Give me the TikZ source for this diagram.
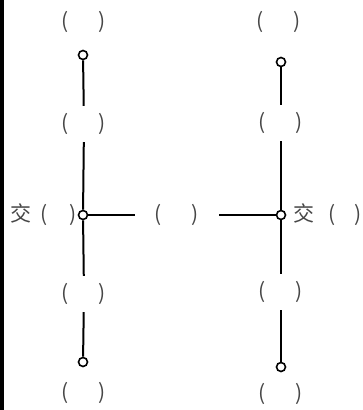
\documentclass[tikz,border=0pt]{standalone}
\usepackage{fontspec}
\setmainfont{Noto Sans CJK SC}
\begin{document}
\begin{tikzpicture}[x=1pt,y=-1pt,
  lab/.style={inner sep=0pt,minimum height=36pt,text=black!72,font=\fontsize{21}{21}\selectfont},
  dot/.style={circle,draw,line width=1.6pt,fill=white,minimum size=9pt,inner sep=0pt},
  wire/.style={line width=2pt}]
\useasboundingbox (0,0) rectangle (362,410);
\fill[black] (0,0) rectangle (4,410);
% left column
\node[lab] (lt) at (84,22) {(\hspace{30pt})};
\node[dot] (lc1) at (83,55) {};
\node[lab] (lm1) at (84,124) {(\hspace{30pt})};
\node[dot] (lj) at (83,215) {};
\node[lab] (lm2) at (84,294) {(\hspace{30pt})};
\node[dot] (lc2) at (83,362) {};
\node[lab] (lb) at (84,393) {(\hspace{30pt})};
\node[lab,anchor=east] (lx) at (77,215) {交\hspace{9pt}(\hspace{22pt})};
% right column
\node[lab] (rt) at (279,22) {(\hspace{30pt})};
\node[dot] (rc1) at (281,62) {};
\node[lab] (rm1) at (281,123) {(\hspace{30pt})};
\node[dot] (rj) at (281,215) {};
\node[lab] (rm2) at (281,292) {(\hspace{30pt})};
\node[dot] (rc2) at (281,367) {};
\node[lab] (rb) at (281,394) {(\hspace{30pt})};
\node[lab,anchor=west] (rx) at (293,215) {交\hspace{14pt}(\hspace{19pt})};
% middle
\node[lab,minimum width=84pt] (mid) at (177,215) {(\hspace{30pt})};
% wires
\draw[wire] (lc1) -- (lm1);
\draw[wire] (lm1) -- (lj);
\draw[wire] (lj) -- (lm2);
\draw[wire] (lm2) -- (lc2);
\draw[wire] (rc1) -- (rm1);
\draw[wire] (rm1) -- (rj);
\draw[wire] (rj) -- (rm2);
\draw[wire] (rm2) -- (rc2);
\draw[wire] (lj) -- (mid);
\draw[wire] (mid) -- (rj);
\end{tikzpicture}
\end{document}
